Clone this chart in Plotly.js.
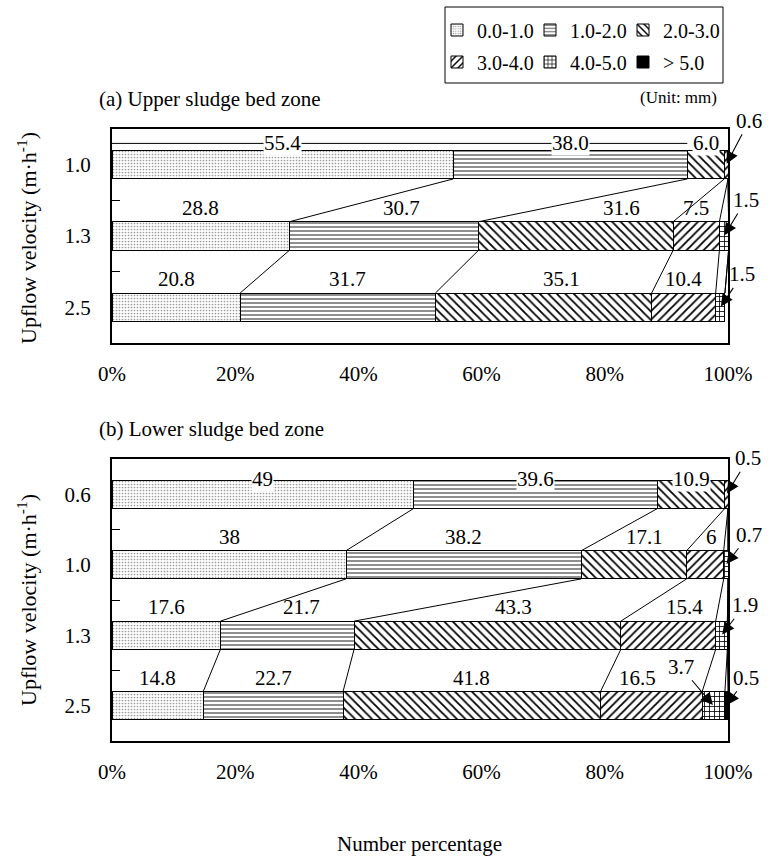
<!DOCTYPE html>
<html>
<head>
<meta charset="utf-8">
<script src="https://cdn.plot.ly/plotly-3.0.1.min.js"></script>
<style>html,body{margin:0;padding:0;background:#fff;}#chart{width:770px;height:861px;}</style>
</head>
<body>
<div id="chart"></div>
<script>
// ---------------- DATA ----------------
const seriesNames = ['0.0-1.0', '1.0-2.0', '2.0-3.0', '3.0-4.0', '4.0-5.0', '> 5.0'];

const upperCats = ['1.0', '1.3', '2.5'];
const upperS1 = [55.4, 28.8, 20.8];
const upperS2 = [38.0, 30.7, 31.7];
const upperS3 = [6.0, 31.6, 35.1];
const upperS4 = [0.6, 7.5, 10.4];
const upperS5 = [0, 1.5, 1.5];
const upperS6 = [0, 0, 0];

const lowerCats = ['0.6', '1.0', '1.3', '2.5'];
const lowerS1 = [49, 38, 17.6, 14.8];
const lowerS2 = [39.6, 38.2, 21.7, 22.7];
const lowerS3 = [10.9, 17.1, 43.3, 41.8];
const lowerS4 = [0.5, 6, 15.4, 16.5];
const lowerS5 = [0, 0.7, 1.9, 3.7];
const lowerS6 = [0, 0, 0, 0.5];

const xTickVals = [0, 20, 40, 60, 80, 100];
const xTickText = ['0%', '20%', '40%', '60%', '80%', '100%'];

// ---------------- STYLE ----------------
const FONT = 'Liberation Serif, serif';
const W = 770, H = 861;
const px = v => v / W;
const py = v => 1 - v / H;
const BARGAP = 0.6;
const BW = 1 - BARGAP;
const LFS = 21;

const patterns = [
  {shape: '.', size: 3, solidity: 0.25, fgcolor: '#999999', bgcolor: 'white'},
  {shape: '-', size: 4, solidity: 0.22, fgcolor: 'black', bgcolor: 'white'},
  {shape: '\\', size: 6, solidity: 0.3, fgcolor: 'black', bgcolor: 'white'},
  {shape: '/', size: 6, solidity: 0.3, fgcolor: 'black', bgcolor: 'white'},
  {shape: '+', size: 5, solidity: 0.3, fgcolor: 'black', bgcolor: 'white'},
  null
];

const zones = [
  {cats: upperCats, series: [upperS1, upperS2, upperS3, upperS4, upperS5, upperS6],
   xa: 'x', ya: 'y', fmt: v => v.toFixed(1), showLegend: true},
  {cats: lowerCats, series: [lowerS1, lowerS2, lowerS3, lowerS4, lowerS5, lowerS6],
   xa: 'x2', ya: 'y2', fmt: v => String(v), showLegend: false}
];

const labelShift = {
  '0-1-1': 18, '0-1-2': 46, '0-2-1': 10, '0-2-2': 18,
  '1-1-2': 10, '1-1-3': 6, '1-2-1': 14, '1-2-2': 26, '1-2-3': 16, '1-3-3': -14
};
const guideRows = {'0-0': 1};
const edgeRows = {'1-0': true};
const callouts = {
  '0-0-3': {ax: 23, ay: -44},
  '0-1-4': {ax: 22, ay: -36},
  '0-2-4': {ax: 22, ay: -33},
  '1-0-3': {ax: 22, ay: -36},
  '1-1-4': {ax: 23, ay: -30},
  '1-2-4': {ax: 23, ay: -30},
  '1-3-4': {ax: -33, ay: -39},
  '1-3-5': {ax: 20, ay: -28}
};

const traces = [];
const annotations = [];
const shapes = [];

zones.forEach((z, zi) => {
  const n = z.cats.length;
  const idx = z.cats.map((_, i) => i);
  z.series.forEach((vals, k) => {
    const marker = {line: {color: 'black', width: 1}};
    if (patterns[k]) { marker.color = 'white'; marker.pattern = patterns[k]; }
    else { marker.color = 'black'; }
    traces.push({
      type: 'bar', orientation: 'h', x: vals, y: idx, name: seriesNames[k],
      xaxis: z.xa, yaxis: z.ya, marker: marker,
      legend: k === 0 ? 'legend' : 'legend' + (k + 1),
      showlegend: z.showLegend, hoverinfo: 'skip'
    });
  });
  const cum = idx.map(i => { let s = 0; return z.series.map(v => (s += v[i])); });
  const lx = [], ly = [];
  for (let k = 0; k < z.series.length; k++) {
    for (let i = 0; i < n - 1; i++) {
      lx.push(cum[i][k], cum[i + 1][k], null);
      ly.push(i + BW / 2, i + 1 - BW / 2, null);
    }
  }
  traces.push({type: 'scatter', mode: 'lines', x: lx, y: ly, xaxis: z.xa, yaxis: z.ya,
    line: {color: 'black', width: 1}, showlegend: false, hoverinfo: 'skip'});
  idx.forEach(i => {
    const gkey = zi + '-' + i;
    const onGuide = guideRows[gkey] !== undefined;
    const onEdge = !!edgeRows[gkey];
    if (onGuide) {
      shapes.push({type: 'line', xref: z.xa, yref: z.ya, x0: 0, x1: cum[i][guideRows[gkey]],
        ysizemode: 'pixel', yanchor: i - BW / 2, y0: 7, y1: 7,
        line: {color: 'black', width: 1}, layer: 'above'});
    }
    z.series.forEach((vals, k) => {
      const v = vals[i];
      if (!v) return;
      const mid = cum[i][k] - v / 2;
      const key = zi + '-' + i + '-' + k;
      const font = {family: FONT, size: LFS, color: 'black'};
      if (callouts[key]) {
        annotations.push({x: mid, y: i, xref: z.xa, yref: z.ya, text: z.fmt(v), showarrow: true,
          ax: callouts[key].ax, ay: callouts[key].ay, arrowhead: 2, arrowsize: 2.2,
          arrowwidth: 1.1, arrowcolor: 'black', standoff: 1, font: font});
      } else {
        annotations.push({x: mid, y: i - BW / 2, xref: z.xa, yref: z.ya, text: z.fmt(v),
          showarrow: false, yanchor: 'middle', xshift: labelShift[key] || 0,
          yshift: onGuide ? 7 : (onEdge ? 1 : 14),
          bgcolor: (onGuide || onEdge) ? 'white' : 'rgba(0,0,0,0)',
          borderpad: 0, font: font});
      }
    });
  });
});

const tfont = {family: FONT, size: 21, color: 'black'};
annotations.push(
  {xref: 'paper', yref: 'paper', x: px(97), y: py(99), xanchor: 'left', yanchor: 'middle',
   text: '(a) Upper sludge bed zone', showarrow: false, font: tfont},
  {xref: 'paper', yref: 'paper', x: px(97), y: py(429), xanchor: 'left', yanchor: 'middle',
   text: '(b) Lower sludge bed zone', showarrow: false, font: tfont},
  {xref: 'paper', yref: 'paper', x: px(719), y: py(98), xanchor: 'right', yanchor: 'middle',
   text: '(Unit: mm)', showarrow: false, font: {family: FONT, size: 17, color: 'black'}},
  {xref: 'paper', yref: 'paper', x: px(27), y: py(238), xanchor: 'center', yanchor: 'middle',
   textangle: -90, text: 'Upflow velocity (m·h<sup>-1</sup>)', showarrow: false,
   font: {family: FONT, size: 22, color: 'black'}},
  {xref: 'paper', yref: 'paper', x: px(27), y: py(600), xanchor: 'center', yanchor: 'middle',
   textangle: -90, text: 'Upflow velocity (m·h<sup>-1</sup>)', showarrow: false,
   font: {family: FONT, size: 22, color: 'black'}},
  {xref: 'paper', yref: 'paper', x: px(420), y: py(844), xanchor: 'center', yanchor: 'middle',
   text: 'Number percentage', showarrow: false, font: tfont}
);

shapes.push({type: 'rect', xref: 'paper', yref: 'paper', x0: px(445), x1: px(723),
  y0: py(83), y1: py(7), line: {color: 'black', width: 1}, fillcolor: 'rgba(0,0,0,0)'});

const xDom = [px(112), px(728)];
const axBase = {showline: true, mirror: true, linecolor: 'black', linewidth: 2,
  showgrid: false, zeroline: false, fixedrange: true};
const xAxis = anchor => Object.assign({}, axBase, {
  domain: xDom, anchor: anchor, range: [0, 100], tickmode: 'array',
  tickvals: xTickVals, ticktext: xTickText, ticks: '', ticklabelstandoff: 11,
  tickfont: {family: FONT, size: 21, color: 'black'}
});
const yAxis = (anchor, dom, cats) => Object.assign({}, axBase, {
  domain: dom, anchor: anchor, range: [cats.length - 0.5, -0.5], tickmode: 'array',
  tickvals: cats.map((_, i) => i), ticktext: cats, ticks: '', ticklabelstandoff: 15,
  tickfont: {family: FONT, size: 21, color: 'black'},
  minor: {tickmode: 'array', tickvals: cats.slice(1).map((_, i) => i + 0.5),
          ticks: 'inside', ticklen: 8, tickwidth: 1, tickcolor: 'black', showgrid: false}
});

const layout = {
  width: W, height: H,
  margin: {l: 0, r: 0, t: 0, b: 0},
  paper_bgcolor: 'white', plot_bgcolor: 'white',
  barmode: 'stack', bargap: BARGAP,
  showlegend: true,
  xaxis: xAxis('y'),
  yaxis: yAxis('x', [py(343), py(129)], upperCats),
  xaxis2: xAxis('y2'),
  yaxis2: yAxis('x2', [py(741), py(459)], lowerCats),
  annotations: annotations,
  shapes: shapes,
  font: {family: FONT, color: 'black'}
};
seriesNames.forEach((_, k) => {
  const col = k % 3, row = Math.floor(k / 3);
  layout[k === 0 ? 'legend' : 'legend' + (k + 1)] = {
    orientation: 'v', xanchor: 'left', yanchor: 'middle',
    x: px(457 + col * 93 - 20), y: py(30 + row * 32),
    borderwidth: 0, bgcolor: 'rgba(0,0,0,0)', itemwidth: 30,
    font: {family: FONT, size: 20, color: 'black'}
  };
});

Plotly.newPlot('chart', traces, layout, {displayModeBar: false, staticPlot: true});
</script>
</body>
</html>
